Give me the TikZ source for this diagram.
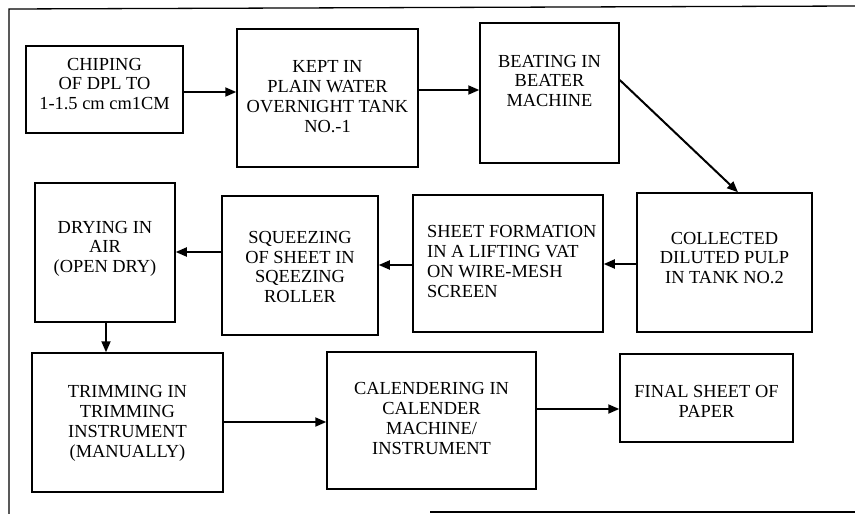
\documentclass[tikz,border=0pt]{standalone}
\usepackage{fontspec}
\setmainfont{Liberation Serif}
\usetikzlibrary{fit,arrows.meta}
\begin{document}
\begin{tikzpicture}[x=1pt,y=-1pt,
  box/.style={draw, line width=1.5pt, inner sep=0pt},
  txt/.style={inner sep=0pt, align=center, font=\fontsize{18.4}{19.7}\selectfont},
  arr/.style={line width=2pt, -{Triangle[length=11pt,width=9pt]}},
  frame/.style={line width=1.3pt}]
\useasboundingbox (0,0) rectangle (855,514);
% outer frame (as scanned)
\draw[frame] (9,514) -- (9,9) -- (855,6);
\draw[frame] (430,512) -- (855,512);
% boxes
\node[box, fit={(26,46) (183,133)}] (b1) {};
\node[box, fit={(237,29) (418,167)}] (b2) {};
\node[box, fit={(480,23) (619,163)}] (b3) {};
\node[box, fit={(637,193) (812,332)}] (b4) {};
\node[box, fit={(413,195) (603,332)}] (b5) {};
\node[box, fit={(222,196) (378,335)}] (b6) {};
\node[box, fit={(35,183) (175,322)}] (b7) {};
\node[box, fit={(32,353) (223,492)}] (b8) {};
\node[box, fit={(327,352) (536,489)}] (b9) {};
\node[box, fit={(620,354) (793,442)}] (b10) {};
% texts
\node[txt] (t1) at (104.5,85.8) {\strut CHIPING\\\strut OF DPL TO\\\strut 1-1.5 cm cm1CM};
\node[txt] (t2) at (327.5,98.6) {\strut KEPT IN\\\strut PLAIN WATER\\\strut OVERNIGHT TANK\\\strut NO.-1};
\node[txt] (t3) at (549.5,82.8) {\strut BEATING IN\\\strut BEATER\\\strut MACHINE};
\node[txt] (t4) at (724.5,259.8) {\strut COLLECTED\\\strut DILUTED PULP\\\strut IN TANK NO.2};
\node[txt, align=left, anchor=west] (t5) at (427,263.6) {\strut SHEET FORMATION\\\strut IN A LIFTING VAT\\\strut ON WIRE-MESH\\\strut SCREEN};
\node[txt] (t6) at (300,269) {\strut SQUEEZING\\\strut OF SHEET IN\\\strut SQEEZING\\\strut ROLLER};
\node[txt] (t7) at (105,248.8) {\strut DRYING IN\\\strut AIR\\\strut (OPEN DRY)};
\node[txt] (t8) at (127.5,423.6) {\strut TRIMMING IN\\\strut TRIMMING\\\strut INSTRUMENT\\\strut (MANUALLY)};
\node[txt] (t9) at (431.5,420.6) {\strut CALENDERING IN\\\strut CALENDER\\\strut MACHINE/\\\strut INSTRUMENT};
\node[txt] (t10) at (706.5,403.9) {\strut FINAL SHEET OF\\\strut PAPER};
% connectors
\draw[arr] (b1.east |- 0,92) -- (b2.west |- 0,92);
\draw[arr] (b2.east |- 0,90) -- (b3.west |- 0,90);
\draw[arr] (b3.east |- 0,80) -- (b4.north -| 738,0);
\draw[arr] (b4.west |- 0,264) -- (b5.east |- 0,264);
\draw[arr] (b5.west |- 0,265) -- (b6.east |- 0,265);
\draw[arr] (b6.west |- 0,252) -- (b7.east |- 0,252);
\draw[arr] (b7.south -| 106,0) -- (b8.north -| 106,0);
\draw[arr] (b8.east |- 0,422) -- (b9.west |- 0,422);
\draw[arr] (b9.east |- 0,409) -- (b10.west |- 0,409);
\end{tikzpicture}
\end{document}
